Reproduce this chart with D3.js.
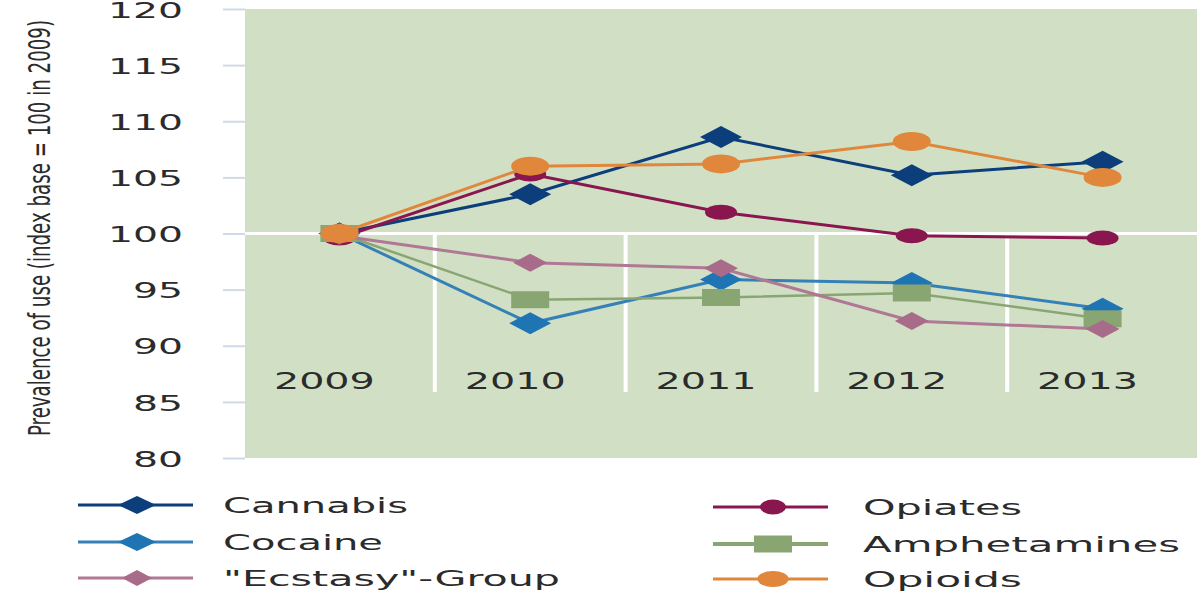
<!DOCTYPE html>
<html>
<head>
<meta charset="utf-8">
<script src="https://cdn.jsdelivr.net/npm/d3@7"></script>
<style>
  html, body { margin: 0; padding: 0; background: #fff; }
  svg { display: block; }
  text { font-family: "DejaVu Sans", Verdana, sans-serif; fill: #2b2b2b; }
</style>
</head>
<body>
<svg id="chart" width="1198" height="596"></svg>
<script>
// Index of prevalence of use, 2009 = 100
const years = ["2009", "2010", "2011", "2012", "2013"];
const cannabis     = [100.0, 103.5, 108.6, 105.2, 106.4];
const cocaine      = [100.0,  92.0,  95.9,  95.6,  93.3];
const ecstasy      = [ 99.8,  97.4,  96.9,  92.2,  91.5];
const opiates      = [ 99.6, 105.3, 101.9,  99.8,  99.6];
const amphetamines = [100.0,  94.1,  94.3,  94.7,  92.4];
const opioids      = [100.0, 106.0, 106.2, 108.2, 105.0];
const yTicks = [80, 85, 90, 95, 100, 105, 110, 115, 120];

const seriesNames = ["Cannabis", "Cocaine", "\"Ecstasy\"-Group", "Opiates", "Amphetamines", "Opioids"];
const seriesValues = [cannabis, cocaine, ecstasy, opiates, amphetamines, opioids];
const seriesColors = ["#0b3e7b", "#1f74b4", "#a96b8a", "#8a1650", "#89a672", "#e0873c"];
const lineColors   = ["#0b3e7b", "#3580b6", "#b07894", "#8a1650", "#89a672", "#e0873c"];
const markerShapes = ["diamond", "diamond", "diamondSmall", "ellipseSmall", "square", "ellipse"];

const svg = d3.select("#chart");

const x = d3.scaleBand().domain(years).range([244, 1198]);
const y = d3.scaleLinear().domain([80, 120]).range([458, 9]);
const cx = d => x(d) + x.bandwidth() / 2;

// plot background
svg.append("rect")
  .attr("x", 245).attr("y", y(120))
  .attr("width", 1197 - 245).attr("height", y(80) - y(120))
  .attr("fill", "#d1e0c5");

// y axis with short tick marks and large labels
const yAxis = svg.append("g").attr("transform", "translate(245,0)")
  .call(d3.axisLeft(y).tickValues(yTicks).tickSize(22).tickPadding(40));
yAxis.select(".domain").remove();
yAxis.selectAll(".tick line").attr("stroke", "#cfdae6").attr("stroke-width", 2);
yAxis.selectAll(".tick text")
  .style("font-size", "22px")
  .attr("fill", "#2b2b2b")
  .attr("dy", "0.37em")
  .attr("textLength", d => d >= 100 ? 75 : 50)
  .attr("lengthAdjust", "spacingAndGlyphs");

// category axis crossing at 100
svg.append("line")
  .attr("x1", 245).attr("x2", 1197)
  .attr("y1", y(100)).attr("y2", y(100))
  .attr("stroke", "#ffffff").attr("stroke-width", 3);

svg.selectAll(".sep").data(years.slice(1)).join("line")
  .attr("class", "sep")
  .attr("x1", d => x(d)).attr("x2", d => x(d))
  .attr("y1", y(100)).attr("y2", 392)
  .attr("stroke", "#ffffff").attr("stroke-width", 4);

svg.selectAll(".cat").data(years).join("text")
  .attr("class", "cat")
  .attr("x", d => cx(d) - 15)
  .attr("y", 389)
  .attr("text-anchor", "middle")
  .style("font-size", "23px")
  .attr("textLength", 101)
  .attr("lengthAdjust", "spacingAndGlyphs")
  .text(d => d);

// axis title (narrow glyphs, widened across the rotated direction)
svg.append("text")
  .attr("transform", "translate(50,228) scale(1.3,1) rotate(-90)")
  .attr("text-anchor", "middle")
  .style("font-family", "'Liberation Sans Narrow', 'DejaVu Sans Condensed', sans-serif")
  .style("font-size", "23px")
  .attr("textLength", 416)
  .attr("lengthAdjust", "spacingAndGlyphs")
  .attr("fill", "#1a1a1a")
  .text("Prevalence of use (index base = 100 in 2009)");

// marker drawing
function marker(g, shape, color, legend) {
  const s = legend ? 0.82 : 1;
  if (shape === "diamond") {
    g.append("path").attr("d", legend ? "M-19,0L0,-9L19,0L0,9Z" : "M-21,0L0,-11L21,0L0,11Z").attr("fill", color);
  } else if (shape === "diamondSmall") {
    g.append("path").attr("d", legend ? "M-15,0L0,-8L15,0L0,8Z" : "M-17,0L0,-9L17,0L0,9Z").attr("fill", color);
  } else if (shape === "ellipse") {
    g.append("ellipse").attr("rx", 19 * s).attr("ry", legend ? 8 : 9.5).attr("fill", color);
  } else if (shape === "ellipseSmall") {
    g.append("ellipse").attr("rx", legend ? 13 : 16).attr("ry", legend ? 7.5 : 7.5).attr("fill", color);
  } else if (shape === "square") {
    g.append("rect").attr("x", -19).attr("y", -8.5).attr("width", 38).attr("height", 17).attr("fill", color);
  }
}

const line = d3.line().x((d, i) => cx(years[i])).y(d => y(d));
const drawOrder = [0, 1, 3, 4, 2, 5];

drawOrder.forEach(k => {
  const g = svg.append("g");
  g.append("path")
    .datum(seriesValues[k])
    .attr("d", line)
    .attr("fill", "none")
    .attr("stroke", lineColors[k])
    .attr("stroke-width", k === 4 ? 2.5 : 3);
  seriesValues[k].forEach((v, i) => {
    const m = g.append("g").attr("transform", `translate(${cx(years[i])},${y(v)})`);
    marker(m, markerShapes[k], seriesColors[k], false);
  });
});

// legend
const legendPos = [
  { lx: 78, mx: 137, tx: 223, ty: 505, w: 185 },
  { lx: 78, mx: 137, tx: 223, ty: 542, w: 160 },
  { lx: 78, mx: 137, tx: 223, ty: 578, w: 337 },
  { lx: 713, mx: 773, tx: 863, ty: 507, w: 159 },
  { lx: 713, mx: 773, tx: 863, ty: 544, w: 317 },
  { lx: 713, mx: 773, tx: 863, ty: 579, w: 159 }
];
seriesNames.forEach((name, k) => {
  const p = legendPos[k];
  const g = svg.append("g");
  g.append("line")
    .attr("x1", p.lx).attr("x2", p.lx + 115)
    .attr("y1", p.ty).attr("y2", p.ty)
    .attr("stroke", lineColors[k])
    .attr("stroke-width", k === 4 ? 4 : 3);
  const m = g.append("g").attr("transform", `translate(${p.mx},${p.ty})`);
  marker(m, markerShapes[k], seriesColors[k], true);
  g.append("text")
    .attr("x", p.tx).attr("y", p.ty)
    .attr("dy", "0.36em")
    .style("font-size", "22px")
    .attr("textLength", p.w)
    .attr("lengthAdjust", "spacingAndGlyphs")
    .text(name);
});
</script>
</body>
</html>
